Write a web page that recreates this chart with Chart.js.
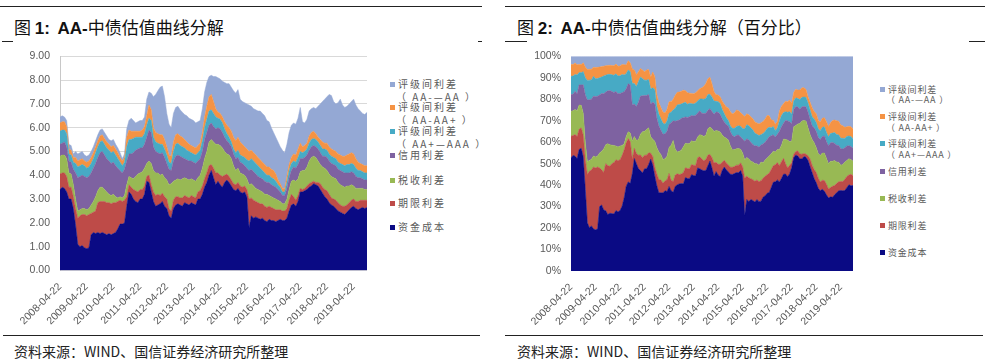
<!DOCTYPE html>
<html>
<head>
<meta charset="utf-8">
<script src="https://cdn.jsdelivr.net/npm/chart.js@4.4.1/dist/chart.umd.min.js"></script>
<style>
body{margin:0;background:#fff;width:991px;height:364px;position:relative;overflow:hidden;font-family:"Noto Sans CJK SC",sans-serif;}
.rule{position:absolute;height:1px;background:#222;}
.title{position:absolute;top:14px;font-size:17px;color:#111;white-space:nowrap;line-height:26px;}
.title b{font-family:"Liberation Sans",Arial,sans-serif;font-weight:bold;}
.src{position:absolute;top:341px;font-size:14px;color:#222;white-space:nowrap;line-height:20px;}
.legend{position:absolute;color:#5a5a5a;}
.legend div{position:absolute;left:0;white-space:nowrap;line-height:12px;}
.legend .sub{left:6px;}
.sw{display:inline-block;width:5px;height:5px;margin-right:3px;vertical-align:1px;}
canvas{position:absolute;}
</style>
</head>
<body>
<div class="rule" style="left:0;top:6px;width:482px"></div>
<div class="rule" style="left:505px;top:6px;width:480px"></div>
<div class="rule" style="left:2px;top:41px;width:11px"></div>
<div class="rule" style="left:478px;top:41px;width:4px"></div>
<div class="rule" style="left:505px;top:41px;width:22px"></div>
<div class="rule" style="left:969px;top:41px;width:16px"></div>
<div class="rule" style="left:3px;top:335px;width:477px"></div>
<div class="rule" style="left:505px;top:335px;width:478px"></div>

<div class="title" style="left:14px">图 <b>1:</b>&nbsp;&nbsp;<b>AA-</b>中债估值曲线分解</div>
<div class="title" style="left:517px">图 <b>2:</b>&nbsp;&nbsp;<b>AA-</b>中债估值曲线分解（百分比）</div>

<canvas id="c1" width="375" height="290" style="left:0;top:40px;width:375px;height:290px"></canvas>
<canvas id="c2" width="370" height="290" style="left:500px;top:40px;width:370px;height:290px"></canvas>

<div class="legend" id="lg1" style="left:390px;top:0;font-size:10px;letter-spacing:2px"></div>
<div class="legend" id="lg2" style="left:880px;top:0;font-size:9px;letter-spacing:0.8px"></div>

<div class="src" style="left:14px">资料来源：WIND、国信证券经济研究所整理</div>
<div class="src" style="left:517px">资料来源：WIND、国信证券经济研究所整理</div>

<script>
// 月度数据 2008-04 ~ 2019-10，单位 %
var fundCost = [3.40,3.50,3.45,3.30,3.00,3.00,2.60,1.90,1.10,1.00,
	1.05,0.95,0.92,0.95,1.50,1.60,1.55,1.60,1.55,1.60,
	1.55,1.50,1.55,1.50,1.55,1.60,1.75,1.95,1.95,2.00,
	2.70,3.30,3.20,3.00,2.90,2.85,3.00,3.00,3.20,3.75,
	3.70,3.30,2.90,2.70,2.75,2.80,2.90,2.70,2.60,2.30,
	2.20,2.60,2.75,2.80,2.75,2.70,2.85,2.80,2.75,2.85,
	2.80,2.75,3.00,3.00,3.20,3.50,3.70,4.00,4.20,3.90,
	3.60,3.75,3.60,3.50,3.70,3.80,3.70,3.55,3.40,3.35,
	3.45,3.30,3.25,3.30,3.10,1.80,2.30,2.20,2.25,2.20,
	2.15,2.20,2.10,2.05,2.15,2.10,2.10,2.05,2.10,2.15,
	2.10,2.10,2.20,2.50,2.75,2.80,2.70,2.90,3.30,3.30,
	3.35,3.40,3.50,3.55,3.65,3.60,3.55,3.40,3.25,3.10,
	3.00,2.85,2.75,2.70,2.60,2.50,2.45,2.40,2.35,2.45,
	2.55,2.65,2.70,2.60,2.55,2.60,2.65,2.60,2.65];
var termSpread = [.65,.60,.65,.65,.50,.50,.50,.70,1.10,1.30,
	1.30,1.40,1.38,1.40,.90,.85,.95,1.25,1.35,1.30,
	1.35,1.35,1.30,1.30,1.30,1.25,1.15,1.00,.95,.95,
	.40,.30,.30,.40,.45,.45,.40,.40,.35,.20,
	.30,.30,.40,.45,.45,.35,.35,.40,.40,.30,
	.30,.35,.35,.30,.30,.35,.30,.30,.30,.30,
	.30,.30,.30,.35,.35,.35,.40,.40,.25,.40,
	.50,.35,.40,.45,.30,.25,.25,.25,.25,.25,
	.25,.25,.25,.25,.30,1.20,.75,.75,.65,.65,
	.65,.60,.60,.60,.55,.55,.50,.50,.45,.40,
	.40,.40,.40,.45,.45,.30,.25,.25,.15,.10,
	.10,.15,.15,.15,.10,.10,.15,.25,.25,.30,
	.35,.35,.30,.30,.35,.35,.30,.30,.35,.30,
	.30,.30,.30,.30,.35,.35,.30,.35,.30];
var taxSpread = [.75,.75,.75,.75,.60,.55,.50,.40,.30,.25,
	.25,.25,.25,.25,.35,.45,.60,.50,.60,.60,
	.50,.45,.35,.35,.35,.25,.15,.15,.15,.20,
	.50,.35,.40,.45,.60,.75,.70,.75,.75,.55,
	.60,.90,.90,.95,.90,.85,.80,.80,.80,1.00,
	1.15,.80,.70,.75,.75,.80,.75,.75,.75,.70,
	.70,.70,.60,.65,.75,.85,.90,1.00,1.05,1.10,
	1.20,1.20,1.25,1.20,1.00,.85,.90,.90,.75,.60,
	.60,.55,.55,.45,.45,.60,.60,.60,.55,.55,
	.55,.50,.50,.55,.45,.45,.45,.45,.40,.35,
	.30,.30,.40,.45,.55,.70,.80,.70,.70,.80,
	.75,.80,.95,1.05,1.05,1.05,.90,.80,.85,.90,
	.85,.85,.90,.90,.90,.85,.85,.85,.80,.80,
	.70,.65,.55,.55,.55,.50,.50,.45,.45];
var creditSpread = [.50,.50,.55,.50,.50,.50,.65,1.10,1.40,1.40,
	1.40,1.35,1.35,1.35,1.35,1.40,1.40,1.40,1.45,1.50,
	1.45,1.40,1.40,1.35,1.35,1.30,1.25,1.10,1.05,1.10,
	1.00,.95,1.00,1.10,1.10,1.05,1.05,1.00,1.00,1.10,
	1.30,1.30,1.00,.90,.85,.90,.90,.85,.70,.65,
	.55,.85,1.00,1.00,1.00,.90,.80,.80,.80,.75,
	.75,.75,.70,.70,.70,.80,.80,.70,.70,.65,
	.65,.70,.70,.65,.60,.55,.50,.50,.50,.50,
	.45,.45,.45,.40,.45,.60,.60,.60,.60,.55,
	.55,.55,.55,.50,.55,.50,.50,.50,.45,.40,
	.35,.35,.45,.50,.45,.55,.55,.60,.55,.50,
	.55,.50,.45,.45,.45,.45,.50,.50,.45,.50,
	.55,.55,.55,.55,.55,.55,.60,.60,.60,.55,
	.55,.55,.55,.50,.45,.45,.40,.40,.40];
var gradeAAAplus = [.55,.55,.50,.55,.30,.30,.30,.40,.45,.45,
	.45,.45,.40,.40,.40,.40,.45,.45,.45,.45,
	.45,.45,.45,.45,.45,.45,.40,.35,.30,.30,
	.60,.60,.60,.60,.55,.50,.45,.45,.45,.50,
	.50,.50,.40,.40,.40,.40,.35,.35,.35,.30,
	.30,.40,.50,.50,.45,.45,.45,.40,.40,.35,
	.35,.35,.35,.35,.45,.50,.55,.60,.55,.55,
	.50,.40,.40,.40,.35,.30,.25,.20,.20,.25,
	.30,.30,.30,.35,.35,.40,.45,.45,.45,.45,
	.40,.35,.35,.30,.30,.30,.30,.25,.20,.20,
	.15,.15,.25,.30,.30,.25,.25,.30,.30,.25,
	.25,.25,.30,.30,.30,.30,.30,.30,.30,.30,
	.30,.30,.30,.30,.30,.30,.30,.30,.30,.35,
	.35,.35,.35,.35,.30,.30,.30,.30,.30];
var gradeAAplus = [.35,.35,.35,.30,.20,.20,.20,.25,.25,.25,
	.25,.20,.25,.25,.25,.25,.25,.25,.25,.25,
	.25,.25,.25,.25,.25,.25,.25,.20,.20,.20,
	.40,.40,.35,.30,.25,.25,.25,.30,.30,.40,
	.55,.45,.40,.40,.40,.40,.40,.40,.35,.30,
	.30,.40,.40,.40,.40,.40,.35,.35,.30,.30,
	.30,.30,.30,.30,.35,.45,.55,.60,.65,.50,
	.35,.25,.25,.25,.30,.35,.40,.45,.50,.50,
	.55,.55,.50,.45,.45,.40,.35,.35,.35,.35,
	.35,.35,.35,.35,.35,.35,.35,.30,.20,.15,
	.15,.15,.25,.25,.25,.30,.30,.35,.35,.25,
	.25,.25,.30,.30,.30,.25,.20,.25,.30,.25,
	.30,.30,.30,.30,.30,.35,.35,.35,.40,.40,
	.45,.45,.45,.40,.35,.30,.30,.30,.30];
var gradeAAminus = [.25,.25,.20,.25,.20,.20,.15,.25,.30,.30,
	.30,.25,.25,.25,.25,.25,.25,.25,.25,.25,
	.25,.25,.20,.25,.25,.20,.20,.20,.10,.15,
	.35,.40,.55,.45,.35,.40,.45,.40,.40,.70,
	.55,.70,1.30,1.60,1.80,2.00,2.05,1.80,1.40,1.30,
	1.20,1.20,1.15,1.15,1.10,1.05,1.05,1.10,1.10,1.10,
	1.10,1.05,1.00,.95,1.00,1.05,1.00,.85,.80,1.05,
	1.35,1.45,1.45,1.50,1.65,1.75,1.85,1.85,1.95,2.00,
	2.00,1.80,1.80,1.85,1.90,1.95,1.85,1.85,1.90,1.95,
	2.05,2.05,2.05,1.95,1.90,1.75,1.60,1.55,1.60,1.55,
	1.60,1.50,1.35,1.35,1.35,1.30,1.30,1.30,1.50,1.05,
	.95,1.00,1.05,1.00,1.00,1.05,1.30,1.50,1.70,1.85,
	1.95,2.20,2.25,2.05,2.00,2.15,2.35,2.15,2.05,2.05,
	2.10,2.15,2.30,2.25,2.25,2.20,2.15,2.15,2.25];

var seriesNames = ['资金成本', '期限利差', '税收利差', '信用利差', '评级间利差', '评级间利差', '评级间利差'];
var seriesNotes = ['', '', '', '', '（ AA+—AAA ）', '（ AA-AA+ ）', '（ AA-—AA ）'];
var seriesColors = ['#0a0a84', '#be4b48', '#98b954', '#7e62a1', '#47aac5', '#f59344', '#94a8d4'];
var seriesData = [fundCost, termSpread, taxSpread, creditSpread, gradeAAAplus, gradeAAplus, gradeAAminus];
var yTicksLeft = [0, 1, 2, 3, 4, 5, 6, 7, 8, 9];
var yTicksRight = [0, 10, 20, 30, 40, 50, 60, 70, 80, 90, 100];

// 日期标签，每月 22 日
var months = [];
for (var i = 0; i < fundCost.length; i++) {
	var yy = 2008 + Math.floor((3 + i) / 12), mm = (3 + i) % 12 + 1;
	months.push(yy + '-' + (mm < 10 ? '0' : '') + mm + '-22');
}

// 百分比 = 分项 / 合计
var totals = fundCost.map(function(v, i){
	var s = 0;
	for (var k = 0; k < seriesData.length; k++) s += seriesData[k][i];
	return s;
});
var pctData = seriesData.map(function(arr){
	return arr.map(function(v, i){ return v / totals[i] * 100; });
});

var tickFont = {family: '"Liberation Sans", Arial, sans-serif', size: 10.5};

function makeDatasets(data){
	return data.map(function(arr, k){
		return {
			label: seriesNames[k] + seriesNotes[k],
			data: arr,
			backgroundColor: seriesColors[k],
			borderColor: seriesColors[k],
			borderWidth: 0.5,
			pointRadius: 0,
			fill: k === 0 ? 'origin' : '-1'
		};
	});
}

function makeChart(id, data, yTicks, yFmt, axisW, padR, xH, showGrid){
	return new Chart(document.getElementById(id), {
		type: 'line',
		data: {labels: months, datasets: makeDatasets(data)},
		options: {
			responsive: false,
			animation: false,
			devicePixelRatio: 1,
			layout: {padding: {top: 12, right: padR, left: 0, bottom: 0}},
			plugins: {legend: {display: false}, tooltip: {enabled: false}},
			scales: {
				x: {
					grid: {display: false},
					border: {display: false},
					afterFit: function(s){ s.height = xH; },
					ticks: {
						autoSkip: false, maxRotation: 45, minRotation: 45, padding: 2,
						color: '#595959', font: tickFont,
						callback: function(v, i){ return i % 12 === 0 ? months[i] : null; }
					}
				},
				y: {
					stacked: true,
					min: yTicks[0], max: yTicks[yTicks.length - 1],
					afterFit: function(s){ s.width = axisW; },
					afterBuildTicks: function(s){ s.ticks = yTicks.map(function(v){ return {value: v}; }); },
					grid: {display: showGrid, color: '#d9d9d9', drawTicks: false},
					border: {display: showGrid, color: '#c8c8c8'},
					ticks: {padding: 10, color: '#595959', font: tickFont, callback: yFmt}
				}
			}
		}
	});
}

makeChart('c1', seriesData, yTicksLeft, function(v){ return v.toFixed(2); }, 60, 8, 59.5, true);
makeChart('c2', pctData, yTicksRight, function(v){ return v + '%'; }, 71, 17, 59, false);

// 图例（文字在 HTML 里）
function buildLegend(id, rows){
	var box = document.getElementById(id);
	rows.forEach(function(r){
		var d = document.createElement('div');
		d.style.top = (r.y - 6) + 'px';
		if (r.k === undefined) {
			d.className = 'sub';
			d.textContent = r.text;
		} else {
			d.innerHTML = '<span class="sw" style="background:' + seriesColors[r.k] + '"></span>' + seriesNames[r.k];
		}
		box.appendChild(d);
	});
}
buildLegend('lg1', [
	{k: 6, y: 84}, {text: seriesNotes[6], y: 97},
	{k: 5, y: 107}, {text: seriesNotes[5], y: 120},
	{k: 4, y: 131}, {text: seriesNotes[4], y: 144},
	{k: 3, y: 155}, {k: 2, y: 180}, {k: 1, y: 203}, {k: 0, y: 227}
]);
buildLegend('lg2', [
	{k: 6, y: 90}, {text: seriesNotes[6], y: 100},
	{k: 5, y: 117}, {text: seriesNotes[5], y: 128},
	{k: 4, y: 144}, {text: seriesNotes[4], y: 155},
	{k: 3, y: 172}, {k: 2, y: 199}, {k: 1, y: 226}, {k: 0, y: 253}
]);
</script>
</body>
</html>
